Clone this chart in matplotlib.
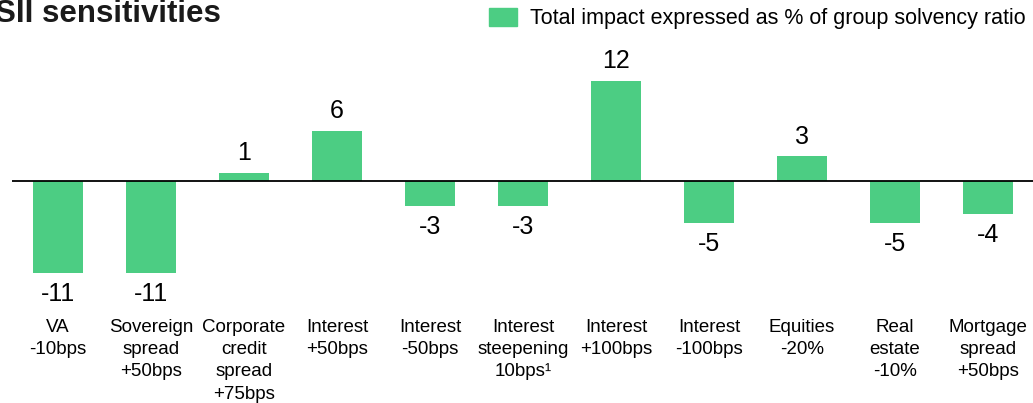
import matplotlib
matplotlib.use("Agg")
import matplotlib.pyplot as plt
from matplotlib.patches import Patch
from matplotlib.transforms import blended_transform_factory

plt.rcParams['font.family'] = ['Liberation Sans', 'DejaVu Sans']

categories = [
    "VA\n-10bps",
    "Sovereign\nspread\n+50bps",
    "Corporate\ncredit\nspread\n+75bps",
    "Interest\n+50bps",
    "Interest\n-50bps",
    "Interest\nsteepening\n10bps\u00b9",
    "Interest\n+100bps",
    "Interest\n-100bps",
    "Equities\n-20%",
    "Real\nestate\n-10%",
    "Mortgage\nspread\n+50bps",
]
impact = [-11, -11, 1, 6, -3, -3, 12, -5, 3, -5, -4]
legend_label = "Total impact expressed as % of group solvency ratio"
title = "SII sensitivities"

W, H = 1033, 403
fig = plt.figure(figsize=(W / 100, H / 100), dpi=100)

px_per_unit = 8.35
y_lo, y_hi = -14, 14
ax_h = (y_hi - y_lo) * px_per_unit
zero_px = 181
ax_top = zero_px - y_hi * px_per_unit
ax = fig.add_axes([11.5 / W, (H - ax_top - ax_h) / H, 1023 / W, ax_h / H])

green = "#4ccd83"
x = list(range(len(impact)))
ax.bar(x, impact, width=0.54, color=green, label=legend_label)
ax.axhline(0, color="black", lw=1.3)
ax.set_xlim(-0.5, 10.5)
ax.set_ylim(y_lo, y_hi)
ax.axis("off")

for xi, v in zip(x, impact):
    off = 14 if v >= 0 else -15
    ax.annotate(f"{v}", (xi, v), xytext=(0, off), textcoords="offset points",
                ha="center", va="center", fontsize=18, color="black")

trans = blended_transform_factory(ax.transData, fig.transFigure)
for xi, lab in zip(x, categories):
    ax.text(xi, 1 - 318.5 / H, lab, transform=trans, ha="center", va="top",
            fontsize=13.5, linespacing=1.42, color="black")

fig.text(-0.005, 1 - 22 / H, title, fontsize=22.5, fontweight="bold",
         color="#1a1a1a", ha="left", va="baseline")

fig.legend(handles=[Patch(facecolor=green, edgecolor=green)], labels=[legend_label],
           loc="upper right", bbox_to_anchor=(1.0, 1.0), frameon=False,
           fontsize=15.5, handlelength=1.3, handleheight=0.95, handletextpad=0.6,
           borderaxespad=0.15, borderpad=0.2)

fig.savefig("out.png", dpi=100)
